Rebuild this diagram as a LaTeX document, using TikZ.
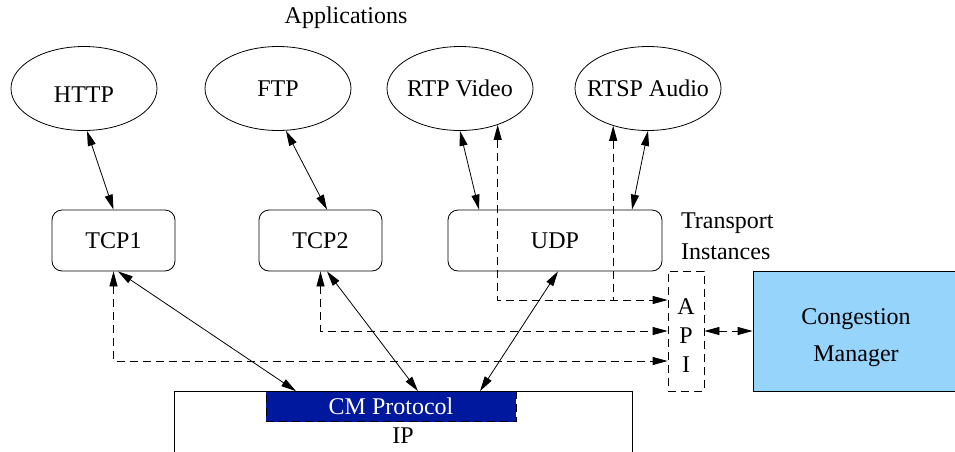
\documentclass[tikz,border=0pt]{standalone}
\usepackage{fontspec}
\setmainfont{Liberation Serif}
\usetikzlibrary{arrows.meta,shapes.geometric}
\definecolor{cmdark}{RGB}{0,24,158}
\definecolor{cmlight}{RGB}{150,212,252}
\tikzset{app/.style={draw,ellipse,minimum width=73pt,minimum height=42pt,inner sep=0pt},
	inst/.style={draw,rounded corners=5pt,minimum height=30.5pt,inner sep=0pt},
	api/.style={dash pattern=on 4pt off 2.5pt}}
\begin{document}
\begin{tikzpicture}[x=0.5pt,y=-0.5pt,font=\fontsize{12}{14.5}\selectfont,>={Triangle[length=7.5pt,width=4pt]}]
\useasboundingbox (0,0) rectangle (955,451);
\node (apps) at (346,18) {Applications};
\node[app] (http) at (84,88.5) {\rule{0pt}{14pt}HTTP};
\node[app] (ftp) at (278,88.5) {FTP};
\node[app] (rtp) at (460,88.5) {\makebox[0pt]{RTP Video}};
\node[app] (rtsp) at (648,88.5) {\makebox[0pt]{RTSP Audio}};
\node[inst,minimum width=61.5pt] (tcp1) at (113.5,240.5) {TCP1};
\node[inst,minimum width=61.5pt] (tcp2) at (320.5,240.5) {TCP2};
\node[inst,minimum width=107pt] (udp) at (555,240.5) {UDP};
\node[align=left,anchor=west] (tinst) at (674,236.5) {Transport\\[1pt]Instances};
\node[draw,api,minimum width=18pt,minimum height=60pt] (api) at (686,331) {};
\foreach \l/\y in {A/306.5,P/335.5,I/365}
	\node (api\l) at (686,\y) {\l};
\coordinate (inA) at ([yshift=15.5pt]api.west);
\coordinate (inP) at (api.west);
\coordinate (inI) at ([yshift=-15pt]api.west);
\node[draw,fill=cmlight,minimum width=103pt,minimum height=60pt,align=center] (cm) at (856,331) {\rule{0pt}{15pt}Congestion\\[4pt]Manager};
\node[draw,minimum width=229pt,minimum height=45pt] (ip) at (403,436) {IP};
\node[draw,api,fill=cmdark,text=white,minimum width=125pt,minimum height=15pt,inner sep=0pt] (cmp) at (391,406.5) {CM Protocol};
\draw[<->] ([xshift=1.5pt]http.south) -- (tcp1.north);
\draw[<->] ([xshift=4pt]ftp.south) -- ([xshift=3.25pt]tcp2.north);
\draw[<->] (rtp.south) -- ([xshift=-38pt]udp.north);
\draw[<->] (rtsp.south) -- ([xshift=38.5pt]udp.north);
\draw[api,<->] (rtp.-44.4) |- (inA);
\draw[api,<-] (rtsp.-133.5) -- (rtsp.-133.5 |- inA);
\draw[api,<->] (tcp2.south) |- (inP);
\draw[api,<->] (tcp1.south) |- (inI);
\draw[api,<->] (api.east) -- (cm.west);
\draw[<->] ([xshift=2.25pt]tcp1.south) -- ([xshift=-47.5pt]cmp.north);
\draw[<->] ([xshift=3.25pt]tcp2.south) -- ([xshift=13.5pt]cmp.north);
\draw[<->] ([xshift=1.5pt]udp.south) -- ([xshift=44.5pt]cmp.north);
\end{tikzpicture}
\end{document}
